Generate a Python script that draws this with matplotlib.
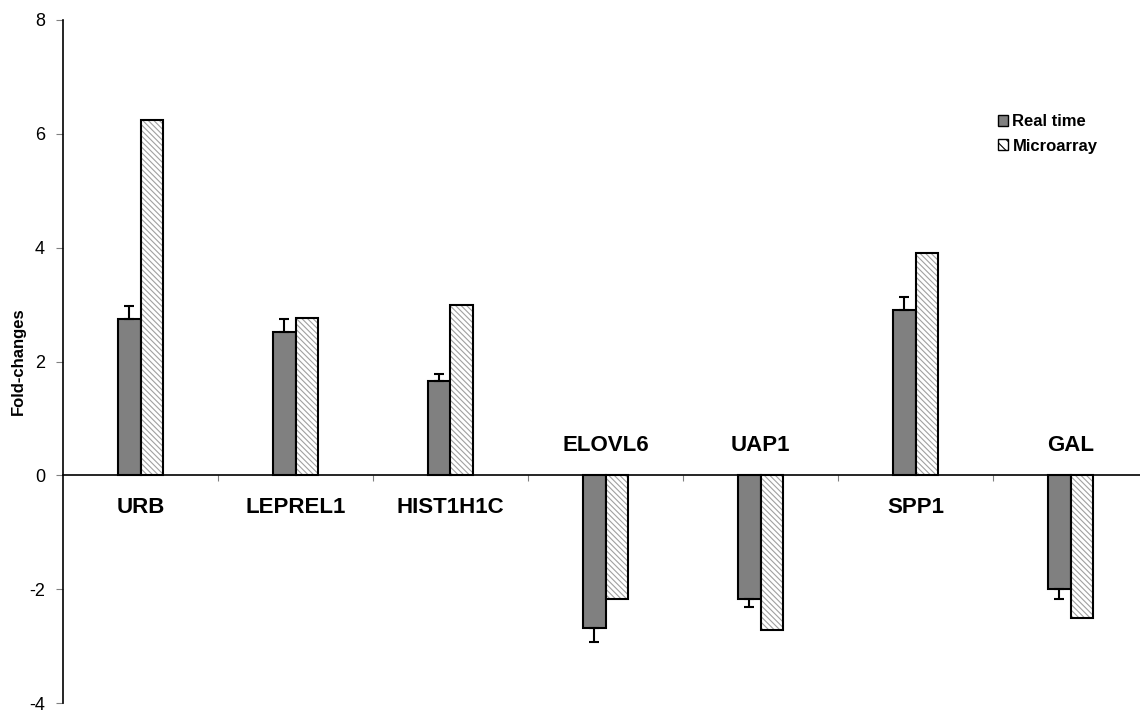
import numpy as np
import matplotlib
matplotlib.use('Agg')
import matplotlib.pyplot as plt
from matplotlib.patches import Patch

plt.rcParams['font.family'] = ['Liberation Sans', 'DejaVu Sans']
plt.rcParams['hatch.linewidth'] = 0.8

# valores
genes = ['URB', 'LEPREL1', 'HIST1H1C', 'ELOVL6', 'UAP1', 'SPP1', 'GAL']
real_time = [2.75, 2.52, 1.65, -2.69, -2.17, 2.90, -2.00]
real_time_err = [0.22, 0.22, 0.13, 0.23, 0.15, 0.23, 0.17]
microarray = [6.25, 2.77, 3.00, -2.17, -2.71, 3.90, -2.50]

x = np.arange(len(genes))
w = 0.145

fig = plt.figure(figsize=(11.4, 7.15), dpi=100)
ax = fig.add_axes([63 / 1140, 12 / 715, 1085 / 1140, 683 / 715])

rt = np.array(real_time)
err = np.array(real_time_err)
# barra de erro só para o lado do valor
yerr = np.vstack([np.where(rt < 0, err, 0), np.where(rt >= 0, err, 0)])

ax.bar(x - w / 2, rt, w, color='#808080', edgecolor='black', linewidth=1.5, zorder=3)
ax.errorbar(x - w / 2, rt, yerr=yerr, fmt='none', ecolor='black',
            elinewidth=1.5, capsize=3.5, capthick=1.5, zorder=4)

# hachura cinza + contorno preto em duas camadas
ax.bar(x + w / 2, microarray, w, color='white', edgecolor='#a0a0a0',
       hatch='\\\\\\\\\\\\', linewidth=0, zorder=3)
ax.bar(x + w / 2, microarray, w, fill=False, edgecolor='black', linewidth=1.5, zorder=4)

for i, (g, v) in enumerate(zip(genes, real_time)):
    off = -23 if v >= 0 else 21.5
    ax.annotate(g, (i, 0), xytext=(0, off), textcoords='offset points',
                ha='center', va='center', fontsize=16, fontweight='bold')

ax.set_xlim(-0.5, len(genes) - 0.5)
ax.set_ylim(-4, 8)
ax.set_yticks(np.arange(-4, 9, 2))
ax.set_yticklabels([str(t) for t in range(-4, 9, 2)], fontsize=13)
ax.tick_params(axis='y', length=5, width=0.8, color='#808080', pad=8)
ax.set_xticks(np.arange(0.5, len(genes) - 0.5, 1))
ax.set_xticklabels([])
ax.tick_params(axis='x', length=4, width=0.8, color='#808080', direction='out')

ax.spines['top'].set_visible(False)
ax.spines['right'].set_visible(False)
ax.spines['bottom'].set_position(('data', 0))
ax.spines['bottom'].set_linewidth(1.2)
ax.spines['left'].set_linewidth(1.2)

ax.set_ylabel('Fold-changes', fontsize=12, fontweight='bold')
ax.yaxis.set_label_coords(-0.0345, 0.5)

handles = [Patch(facecolor='#808080', edgecolor='black', linewidth=1),
           Patch(facecolor='white', edgecolor='black', linewidth=1, hatch='\\\\\\')]
fig.legend(handles, ['Real time', 'Microarray'], loc='upper left',
           bbox_to_anchor=(990 / 1140, 1 - 106 / 715), frameon=False,
           prop={'weight': 'bold', 'size': 12}, handlelength=0.6,
           handleheight=0.6, handletextpad=0.25, labelspacing=0.55, borderpad=0)

fig.savefig('out.png', dpi=100)
